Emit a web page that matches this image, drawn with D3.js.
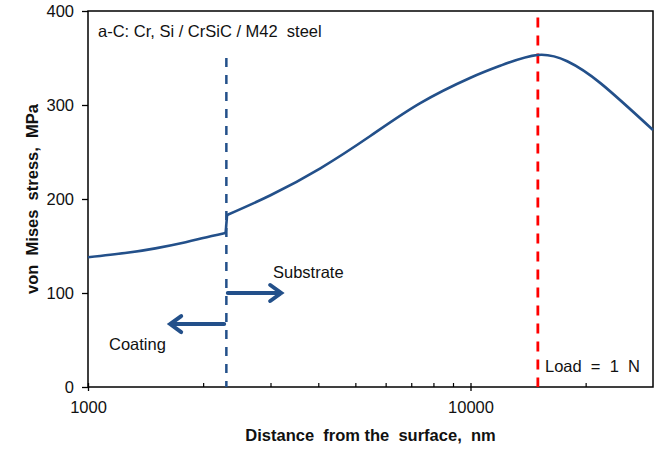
<!DOCTYPE html>
<html><head><meta charset="utf-8">
<script src="https://cdn.jsdelivr.net/npm/d3@7"></script>
<style>body{margin:0;background:#fff}svg{display:block}text{font-family:Arial,"Liberation Sans",sans-serif}</style>
</head><body><svg id="c" width="664" height="449"></svg>
<script>
// Data (distance nm, von Mises stress MPa)
const coatingX = [1000, 1250, 1500, 1800, 2000, 2290];
const coatingY = [138, 142.5, 147.5, 154, 158.5, 164];
const substrateX = [2310, 3000, 4050, 5470, 7390, 10000, 12000, 14950, 17900, 21900, 30000];
const substrateY = [183, 204, 232.7, 267, 302, 329, 342, 353.2, 346.5, 323, 273.4];
const interfaceX = 2300;      // coating / substrate boundary
const maxStressX = 15000;     // depth of max stress
const yTicks = [0, 100, 200, 300, 400];
const xMajorTicks = [1000, 10000];
const xMinorTicks = [2000, 3000, 4000, 5000, 6000, 7000, 8000, 9000, 20000];
const labels = {title: "a-C: Cr, Si / CrSiC / M42  steel", load: "Load  =  1  N",
  xTitle: "Distance  from the  surface,  nm", yTitle: "von  Mises  stress,  MPa",
  coating: "Coating", substrate: "Substrate"};

const svg = d3.select("#c");
const m = {l: 88, r: 653, t: 11, b: 387};
const x = d3.scaleLog().domain([1000, 30000]).range([m.l, m.r]);
const y = d3.scaleLinear().domain([0, 400]).range([m.b, m.t]);
const blue = "#23508A";

// frame
svg.append("rect").attr("x", m.l).attr("y", m.t).attr("width", m.r - m.l).attr("height", m.b - m.t)
  .attr("fill", "none").attr("stroke", "#000").attr("stroke-width", 1.5);

// y axis
const ya = svg.append("g").attr("transform", `translate(${m.l},0)`)
  .call(d3.axisLeft(y).tickValues(yTicks).tickSize(6).tickPadding(8).tickFormat(d3.format("d")));
ya.select(".domain").remove();
ya.selectAll("line").attr("stroke", "#000").attr("stroke-width", 1.3);
ya.selectAll("text").attr("font-size", 16.5).attr("fill", "#111").style("font-family", "Arial,'Liberation Sans',sans-serif");

// x axis major
const xa = svg.append("g").attr("transform", `translate(0,${m.b})`)
  .call(d3.axisBottom(x).tickValues(xMajorTicks).tickSizeInner(4).tickSizeOuter(0).tickPadding(10).tickFormat(d3.format("d")));
xa.select(".domain").remove();
xa.selectAll("line").attr("y1", -4).attr("y2", 4).attr("stroke", "#000").attr("stroke-width", 1.3);
xa.selectAll("text").attr("font-size", 16.5).attr("fill", "#111").style("font-family", "Arial,'Liberation Sans',sans-serif");
// minor ticks (inside)
const xm = svg.append("g").attr("transform", `translate(0,${m.b})`)
  .call(d3.axisBottom(x).tickValues(xMinorTicks).tickSize(-4).tickFormat(""));
xm.select(".domain").remove();
xm.selectAll("line").attr("stroke", "#000").attr("stroke-width", 1.2);

// dashed lines
svg.append("line").attr("x1", x(interfaceX)).attr("x2", x(interfaceX)).attr("y1", y(350)).attr("y2", y(0))
  .attr("stroke", blue).attr("stroke-width", 2.5).attr("stroke-dasharray", "9,8");
svg.append("line").attr("x1", x(maxStressX)).attr("x2", x(maxStressX)).attr("y1", y(393)).attr("y2", y(0))
  .attr("stroke", "#FF0000").attr("stroke-width", 2.8).attr("stroke-dasharray", "10,8");

// curve
const coat = coatingX.map((d, i) => [d, coatingY[i]]);
const sub = substrateX.map((d, i) => [d, substrateY[i]]);
const line = d3.line().x(d => x(d[0])).y(d => y(d[1])).curve(d3.curveNatural);
const straight = d3.line().x(d => x(d[0])).y(d => y(d[1]));
const g = svg.append("g").attr("fill", "none").attr("stroke", blue).attr("stroke-width", 2.6).attr("stroke-linejoin", "round");
g.append("path").datum(coat).attr("d", line);
g.append("path").datum([coat[coat.length - 1], sub[0]]).attr("d", straight);
g.append("path").datum(sub).attr("d", line);

// arrows
function arrow(x0, x1, yv) {
  const X0 = x(x0), X1 = x(x1), Y = y(yv), dir = Math.sign(X1 - X0);
  svg.append("path").attr("d", `M${X0},${Y}L${X1},${Y}M${X1 - dir * 11},${Y - 8}L${X1},${Y}L${X1 - dir * 11},${Y + 8}`)
    .attr("fill", "none").attr("stroke", blue).attr("stroke-width", 4).attr("stroke-linecap", "round").attr("stroke-linejoin", "miter");
}
arrow(2270, 1640, 67);
arrow(2320, 3200, 100);

// texts
const t = (txt, px, py, opts = {}) => svg.append("text").attr("x", px).attr("y", py).text(txt)
  .attr("font-size", opts.size || 16.5).attr("font-weight", opts.bold ? "bold" : "normal")
  .attr("text-anchor", opts.anchor || "start").attr("fill", "#111").style("white-space", "pre");
t(labels.title, 98, 37);
t(labels.load, 545, 372);
t(labels.coating, 109, 350);
t(labels.substrate, 273, 278);
t(labels.xTitle, (m.l + m.r) / 2, 441, {bold: true, anchor: "middle"});
svg.append("text").attr("transform", `translate(38,${(m.t + m.b) / 2}) rotate(-90)`)
  .attr("text-anchor", "middle").attr("font-size", 16.5).attr("font-weight", "bold").attr("fill", "#111")
  .style("white-space", "pre").text(labels.yTitle);
</script></body></html>
